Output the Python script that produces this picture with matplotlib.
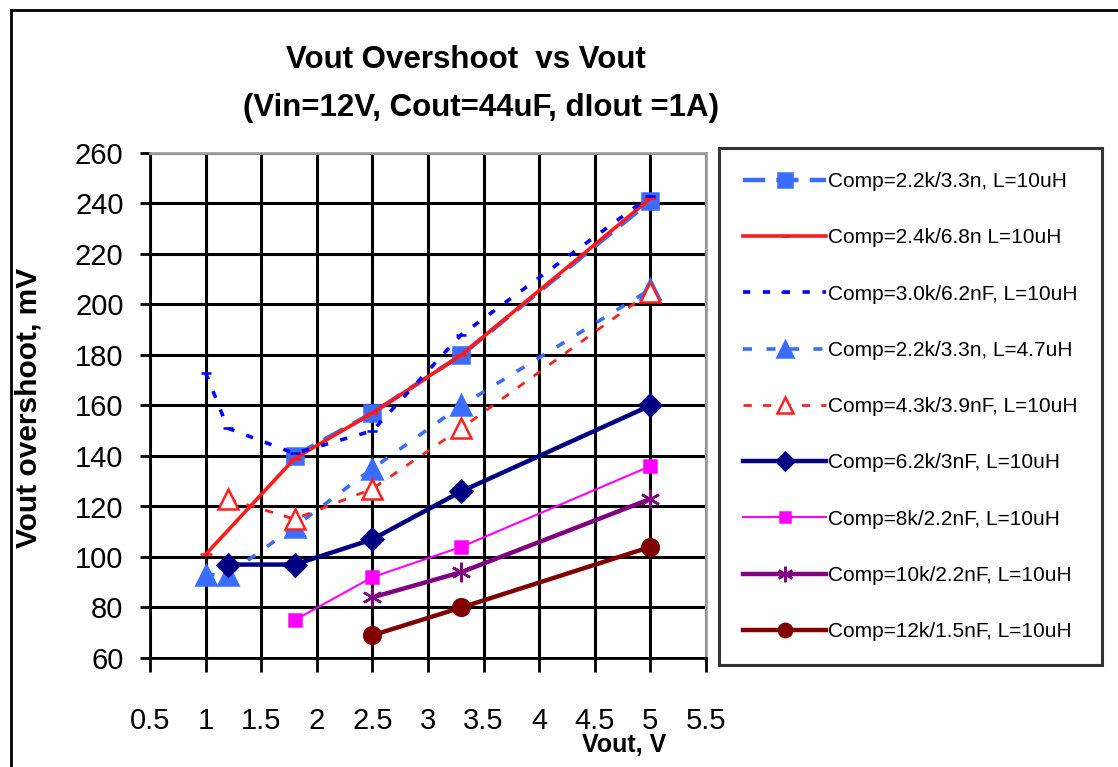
import matplotlib
matplotlib.use("Agg")
import matplotlib.pyplot as plt
from matplotlib.lines import Line2D

# ---------------- data ----------------
labels = [
    "Comp=2.2k/3.3n, L=10uH",
    "Comp=2.4k/6.8n L=10uH",
    "Comp=3.0k/6.2nF, L=10uH",
    "Comp=2.2k/3.3n, L=4.7uH",
    "Comp=4.3k/3.9nF, L=10uH",
    "Comp=6.2k/3nF, L=10uH",
    "Comp=8k/2.2nF, L=10uH",
    "Comp=10k/2.2nF, L=10uH",
    "Comp=12k/1.5nF, L=10uH",
]
x_s1 = [1.8, 2.5, 3.3, 5.0]
y_s1 = [140, 157, 180, 241]
x_s2 = [1.0, 1.8, 2.5, 3.3, 5.0]
y_s2 = [101, 139, 157, 180, 242]
x_s3 = [1.0, 1.2, 1.8, 2.5, 3.3, 5.0]
y_s3 = [173, 151, 141, 150, 188, 243]
x_s4 = [1.0, 1.2, 1.8, 2.5, 3.3, 5.0]
y_s4 = [93, 93, 112, 135, 160, 206]
x_s5 = [1.2, 1.8, 2.5, 3.3, 5.0]
y_s5 = [123, 115, 127, 151, 205]
x_s6 = [1.2, 1.8, 2.5, 3.3, 5.0]
y_s6 = [97, 97, 107, 126, 160]
x_s7 = [1.8, 2.5, 3.3, 5.0]
y_s7 = [75, 92, 104, 136]
x_s8 = [2.5, 3.3, 5.0]
y_s8 = [84, 94, 123]
x_s9 = [2.5, 3.3, 5.0]
y_s9 = [69, 80, 104]

x_ticks = [0.5, 1, 1.5, 2, 2.5, 3, 3.5, 4, 4.5, 5, 5.5]
x_tick_labels = ["0.5", "1", "1.5", "2", "2.5", "3", "3.5", "4", "4.5", "5", "5.5"]
y_ticks = list(range(60, 261, 20))

title1 = "Vout Overshoot  vs Vout"
title2 = "(Vin=12V, Cout=44uF, dIout =1A)"
xlabel = "Vout, V"
ylabel = "Vout overshoot, mV"

plt.rcParams["font.family"] = ["Liberation Sans", "DejaVu Sans"]

W, H = 1118, 767
fig = plt.figure(figsize=(W / 100, H / 100), dpi=100)
fig.patch.set_facecolor("white")

def fx(px):
    return px / W

def fy(py):
    return 1 - py / H

ax = fig.add_axes([fx(150), fy(658), fx(706) - fx(150), fy(153) - fy(658)])

series = [
    dict(x=x_s1, y=y_s1, color="#3a6dff", lw=3.2, ls=(0, (5, 2.5)), marker="s", ms=12, mfc="#3a6dff", mec="#3a6dff"),
    dict(x=x_s2, y=y_s2, color="#ff1a1a", lw=2.6, ls="-", marker="_", ms=8, mfc="#ff1a1a", mec="#ff1a1a"),
    dict(x=x_s3, y=y_s3, color="#0000ff", lw=2.6, ls=(0, (2, 3.5)), marker="_", ms=7, mfc="#0000ff", mec="#0000ff"),
    dict(x=x_s4, y=y_s4, color="#3a6dff", lw=2.6, ls=(0, (2.5, 4)), marker="^", ms=15, mfc="#3a6dff", mec="#3a6dff"),
    dict(x=x_s5, y=y_s5, color="#ff2020", lw=2.0, ls=(0, (3, 4)), marker="^", ms=15, mfc="white", mec="#ff2020"),
    dict(x=x_s6, y=y_s6, color="#000080", lw=3.2, ls="-", marker="D", ms=11, mfc="#000080", mec="#000080"),
    dict(x=x_s7, y=y_s7, color="#ff00ff", lw=1.5, ls="-", marker="s", ms=9, mfc="#ff00ff", mec="#ff00ff"),
    dict(x=x_s8, y=y_s8, color="#800080", lw=3.2, ls="-", marker=(6, 2, 0), ms=14, mfc="#800080", mec="#800080"),
    dict(x=x_s9, y=y_s9, color="#800000", lw=3.2, ls="-", marker="o", ms=12, mfc="#800000", mec="#800000"),
]

handles = []
for s, lab in zip(series, labels):
    h, = ax.plot(s["x"], s["y"], color=s["color"], lw=s["lw"], linestyle=s["ls"],
                 marker=s["marker"], markersize=s["ms"], markerfacecolor=s["mfc"],
                 markeredgecolor=s["mec"], markeredgewidth=1.8, label=lab, zorder=3)
    handles.append(h)

ax.set_xlim(0.5, 5.5)
ax.set_ylim(60, 260)
ax.set_xticks(x_ticks)
ax.set_xticklabels(x_tick_labels)
ax.set_yticks(y_ticks)
ax.grid(True, color="black", lw=2.2, zorder=1)
ax.set_axisbelow(True)
for side in ["left", "bottom"]:
    ax.spines[side].set_color("black")
    ax.spines[side].set_linewidth(2)
for side in ["top", "right"]:
    ax.spines[side].set_color("#a0a0a0")
    ax.spines[side].set_linewidth(2)
ax.tick_params(axis="y", direction="out", length=7, width=2, pad=12, labelsize=21, colors="black")
ax.tick_params(axis="x", direction="out", length=10, width=2, pad=25, labelsize=21, colors="black")

fig.text(fx(466), fy(60), title1, ha="center", va="center", fontsize=22.5, fontweight="bold")
fig.text(fx(481), fy(108), title2, ha="center", va="center", fontsize=22.5, fontweight="bold")
fig.text(fx(624), fy(745), xlabel, ha="center", va="center", fontsize=18, fontweight="bold")
fig.text(fx(29), fy(408), ylabel, ha="center", va="center", fontsize=21.5, fontweight="bold", rotation=90)

leg = fig.legend(handles=handles, labels=labels, loc="upper left",
                 bbox_to_anchor=(fx(719), fy(148)), frameon=True, fancybox=False,
                 fontsize=15, handlelength=4.0, handletextpad=0.1, labelspacing=1.79,
                 borderpad=1.15, markerscale=0.8, borderaxespad=0)
leg.get_frame().set_edgecolor("black")
leg.get_frame().set_linewidth(2.2)

# outer chart border
fig.add_artist(Line2D([fx(11), fx(11)], [fy(10), 0], color="black", lw=2, transform=fig.transFigure))
fig.add_artist(Line2D([fx(11), 1], [fy(10), fy(10)], color="black", lw=2, transform=fig.transFigure))

fig.savefig("out.png", dpi=100, facecolor="white")
